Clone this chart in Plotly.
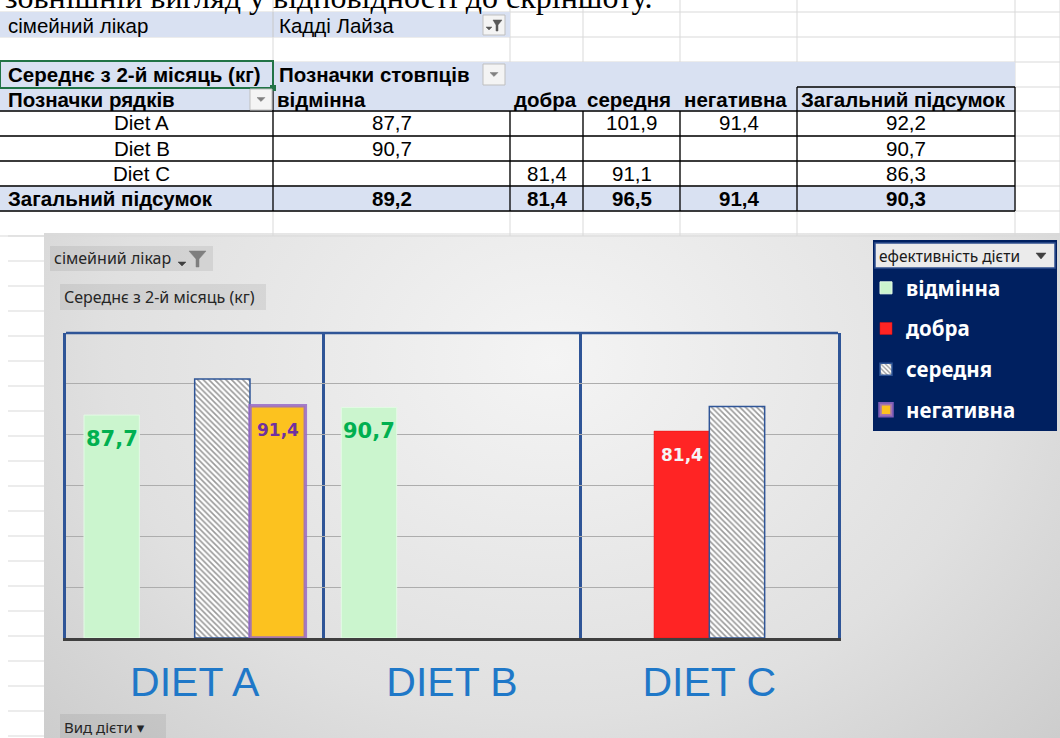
import base64
import plotly.graph_objects as go

W, H = 1060, 738

# ---------------- data ----------------
categories = ["Diet A", "Diet B", "Diet C"]
category_labels = ["DIET A", "DIET B", "DIET C"]
series_names = ["відмінна", "добра", "середня", "негативна"]
vals_vidminna = [87.7, 90.7, None]
vals_dobra = [None, None, 81.4]
vals_serednia = [101.9, None, 91.1]
vals_negatyvna = [91.4, None, None]
row_totals = [92.2, 90.7, 86.3]
col_totals = [89.2, 81.4, 96.5, 91.4]
grand_total = 90.3
y_ticks = [0, 20, 40, 60, 80, 100, 120]

filter_field = "сімейний лікар"
filter_value = "Кадді Лайза"
measure_name = "Середнє з 2-й місяць (кг)"
col_header = "Позначки стовпців"
row_header = "Позначки рядків"
total_label = "Загальний підсумок"
legend_title = "ефективність дієти"
axis_field = "Вид дієти"
top_note = "зовнішній вигляд у відповідності до скріншоту."

series_values = [vals_vidminna, vals_dobra, vals_serednia, vals_negatyvna]


def fmt(v):
    return f"{v:.1f}".replace(".", ",")


# ---------------- helpers (pixel -> paper) ----------------
def X(p):
    return p / W


def Y(p):
    return 1 - p / H


shapes = []
annotations = []
NONE = "rgba(0,0,0,0)"


def rect(x0, y0, x1, y1, fill=NONE, line=NONE, lw=0, layer="below"):
    shapes.append(dict(type="rect", xref="paper", yref="paper",
                       x0=X(x0), x1=X(x1), y0=Y(y1), y1=Y(y0),
                       fillcolor=fill, line=dict(color=line, width=lw), layer=layer))


def seg(x0, y0, x1, y1, color, w, layer="below"):
    shapes.append(dict(type="line", xref="paper", yref="paper",
                       x0=X(x0), x1=X(x1), y0=Y(y0), y1=Y(y1),
                       line=dict(color=color, width=w), layer=layer))


def poly(points, fill, layer="below"):
    d = "M " + " L ".join(f"{X(a):.5f},{Y(b):.5f}" for a, b in points) + " Z"
    shapes.append(dict(type="path", xref="paper", yref="paper", path=d,
                       fillcolor=fill, line=dict(color=fill, width=0.5), layer=layer))


def txt(x, y, s, size, color="#000000", bold=False, anchor="left",
        family="Liberation Sans, Arial, sans-serif", yanchor="middle"):
    annotations.append(dict(xref="paper", yref="paper", x=X(x), y=Y(y), text=s,
                            showarrow=False, xanchor=anchor, yanchor=yanchor,
                            font=dict(family=family, size=size, color=color,
                                      weight="bold" if bold else "normal")))


# ---------------- Excel sheet / pivot table ----------------
GRID = "#D9D9D9"
BAND = "#D9E1F2"
col_x = [0, 273, 510, 583, 680, 797, 1015]
row_y = [12, 37, 62, 87, 111, 136, 161, 186, 211, 236]

for yy in row_y:
    seg(0, yy, W, yy, GRID, 1)
for xx in col_x[1:] + [1060]:
    seg(xx, 0, xx, 236, GRID, 1)
for k in range(0, 21):
    seg(8, 236 + 25 * k, 44, 236 + 25 * k, GRID, 1)

rect(0, 12, 510, 37, BAND)
rect(0, 62, 1015, 111, BAND)
rect(0, 186, 1015, 211, BAND)
seg(273, 12, 273, 37, "#C8C8C8", 1)

# table borders
for yy in row_y[4:9]:
    seg(0, yy, 1015, yy, "#000000", 1.3)
seg(273, 87, 273, 211, "#000000", 1.3)
for xx in col_x[2:5]:
    seg(xx, 111, xx, 211, "#000000", 1.3)
seg(797, 87, 797, 211, "#000000", 1.3)
seg(1015, 87, 1015, 211, "#000000", 1.3)
seg(797, 87, 1015, 87, "#000000", 1.3)
# active cell
rect(0, 61, 273, 88, NONE, "#217346", 2)
rect(270, 85, 276, 91, "#217346")


def dropdown(x0, y0, x1, y1, funnel=False):
    rect(x0, y0, x1, y1, "#F4F4F4", "#BFBFBF", 1)
    if funnel:
        poly([(x0 + 10, y0 + 5), (x1 - 3, y0 + 5), (x1 - 7, y0 + 10), (x1 - 7, y1 - 4),
              (x1 - 9, y1 - 4), (x1 - 9, y0 + 10)], "#595959")
        poly([(x0 + 3, y1 - 8), (x0 + 9, y1 - 8), (x0 + 6, y1 - 5)], "#595959")
    else:
        cx, cy = (x0 + x1) / 2, (y0 + y1) / 2
        poly([(cx - 4, cy - 2), (cx + 4, cy - 2), (cx, cy + 2)], "#808080")


dropdown(483, 15, 505, 35, funnel=True)
dropdown(483, 64, 505, 85)
dropdown(250, 89, 272, 110)

TS = 20.5
txt(6, 25, filter_field, TS)
txt(277, 25, filter_value, TS)
txt(6, 74, measure_name, TS, bold=True)
txt(277, 74, col_header, TS, bold=True)
txt(6, 99, row_header, TS, bold=True)
for i, name in enumerate(series_names):
    txt(col_x[i + 1] + 2, 99, name, TS, bold=True)
txt(col_x[5] + 2, 99, total_label, TS, bold=True)

row_c = [123, 148, 173]
col_c = [(col_x[i] + col_x[i + 1]) / 2 for i in range(6)]
for r, cat in enumerate(categories):
    txt(col_c[0] + 5, row_c[r], cat, TS, anchor="center")
    for s, vals in enumerate(series_values):
        if vals[r] is not None:
            txt(col_c[s + 1], row_c[r], fmt(vals[r]), TS, anchor="center")
    txt(col_c[5], row_c[r], fmt(row_totals[r]), TS, anchor="center")
txt(6, 198, total_label, TS, bold=True)
for s, v in enumerate(col_totals):
    txt(col_c[s + 1], 198, fmt(v), TS, bold=True, anchor="center")
txt(col_c[5], 198, fmt(grand_total), TS, bold=True, anchor="center")

# partially visible text line at very top (cut by the screenshot edge, as in the reference)
txt(3, 17, top_note, 32, family="Liberation Serif, Times New Roman, serif", yanchor="bottom")

# ---------------- chart area decorations ----------------
svg = ('<svg xmlns="http://www.w3.org/2000/svg" width="1016" height="505" viewBox="0 0 1016 505" '
       'preserveAspectRatio="none"><defs><radialGradient id="g" cx="0.5" cy="0.25" r="0.8" '
       'gradientTransform="translate(0.5 0.25) scale(1 1.6) translate(-0.5 -0.25)">'
       '<stop offset="0" stop-color="#F4F4F4"/><stop offset="0.55" stop-color="#E0E0E0"/>'
       '<stop offset="1" stop-color="#C4C4C4"/></radialGradient></defs>'
       '<rect width="1016" height="505" fill="url(#g)"/></svg>')
bg_src = "data:image/svg+xml;base64," + base64.b64encode(svg.encode("utf-8")).decode("ascii")
images = [dict(source=bg_src, xref="paper", yref="paper", x=X(44), y=Y(233),
               sizex=X(1060) - X(44), sizey=Y(233) - Y(738), xanchor="left", yanchor="top",
               sizing="stretch", layer="below")]

BTN = "rgba(0,0,0,0.07)"
BF = "Noto Sans, DejaVu Sans, sans-serif"
rect(50, 246, 213, 271, BTN)
txt(52, 258, filter_field, 16, "#262626", family=BF)
poly([(178, 262), (186, 262), (182, 266)], "#404040")
poly([(189, 251), (206, 251), (199, 259), (199, 267), (196, 267), (196, 259)], "#7F7F7F")
rect(60, 284, 266, 310, BTN)
txt(62, 297, measure_name, 16, "#262626", family=BF)
rect(60, 714, 166, 742, BTN)
txt(62, 727, axis_field + " ▾", 15, "#262626", family=BF)

# legend panel
rect(873, 240, 1057, 431, "#002060")
rect(875, 243, 1055, 268, "#EBEBEB", "#2F4F8F", 1.5)
txt(877, 256, legend_title, 15.5, "#1A1A1A", family=BF)
poly([(1036, 253), (1046, 253), (1041, 259)], "#404040")

# top border of plot area
BLUE = "#2F5597"
shapes.append(dict(type="line", xref="x domain", yref="y domain", x0=0, x1=1, y0=1, y1=1,
                   line=dict(color=BLUE, width=2.5), layer="above"))

# ---------------- bars ----------------
bargap = 0.14
fig = go.Figure()
fig.add_trace(go.Bar(name=series_names[0], x=categories, y=vals_vidminna, legendgroup="a",
                     marker=dict(color="#CBF5CE", line=dict(color="#E3FAE5", width=1))))
fig.add_trace(go.Bar(name=series_names[1], x=categories, y=vals_dobra, legendgroup="b",
                     marker=dict(color="#FF2424", line=dict(color="#E01010", width=0.5))))
fig.add_trace(go.Bar(name=series_names[2], x=categories, y=vals_serednia, legendgroup="c",
                     marker=dict(color="white",
                                 pattern=dict(shape="\\", fgcolor="#333333", bgcolor="white",
                                              size=4, solidity=0.4),
                                 line=dict(color=BLUE, width=1.5))))
fig.add_trace(go.Bar(name=series_names[3], x=categories, y=vals_negatyvna, legendgroup="d",
                     marker=dict(color="#FCC21F", line=dict(color="rgba(150,105,200,0.85)", width=3.5))))

# data labels positioned from values and the group slot of each series
label_style = {0: ("#00B050", 21), 1: ("#F5F5F5", 17), 3: ("#7030A0", 17)}
slot = (1 - bargap) / len(series_names)
for s, vals in enumerate(series_values):
    if s not in label_style:
        continue
    color, size = label_style[s]
    for c, v in enumerate(vals):
        if v is None:
            continue
        annotations.append(dict(xref="x", yref="y", x=c + (s - 1.5) * slot, y=v,
                                text=fmt(v), showarrow=False, yanchor="middle", yshift=-24,
                                font=dict(family="DejaVu Sans, Verdana, sans-serif", size=size,
                                          color=color, weight="bold")))

fig.update_layout(
    width=W, height=H,
    margin=dict(l=0, r=0, t=0, b=0),
    paper_bgcolor="white", plot_bgcolor=NONE,
    barmode="group", bargap=bargap, bargroupgap=0,
    showlegend=True,
    legend=dict(x=X(866), y=Y(268), xanchor="left", yanchor="top", bgcolor=NONE,
                font=dict(family=BF, size=20.5, color="white", weight="bold"),
                traceorder="grouped", tracegroupgap=11, itemclick=False, itemdoubleclick=False),
    xaxis=dict(type="category", domain=[X(66), X(838)], tickson="boundaries",
               showgrid=True, gridcolor=BLUE, gridwidth=2.5,
               showline=True, linecolor="#3F3F3F", linewidth=3,
               ticks="", ticklabelstandoff=6,
               tickvals=categories, ticktext=category_labels,
               tickfont=dict(family="Liberation Sans, Arial, sans-serif", size=41, color="#1F78C8"),
               fixedrange=True),
    yaxis=dict(domain=[Y(638), Y(333)], range=[0, 120], tickvals=y_ticks, showticklabels=False,
               showgrid=True, gridcolor="#ADADAD", gridwidth=1, zeroline=False,
               showline=True, mirror=True, linecolor=BLUE, linewidth=2.5, ticks="",
               fixedrange=True),
    shapes=shapes, annotations=annotations, images=images,
    hovermode=False,
)

fig.write_html("out.html", config={"displayModeBar": False},
               post_script="document.body.style.margin='0px';")
